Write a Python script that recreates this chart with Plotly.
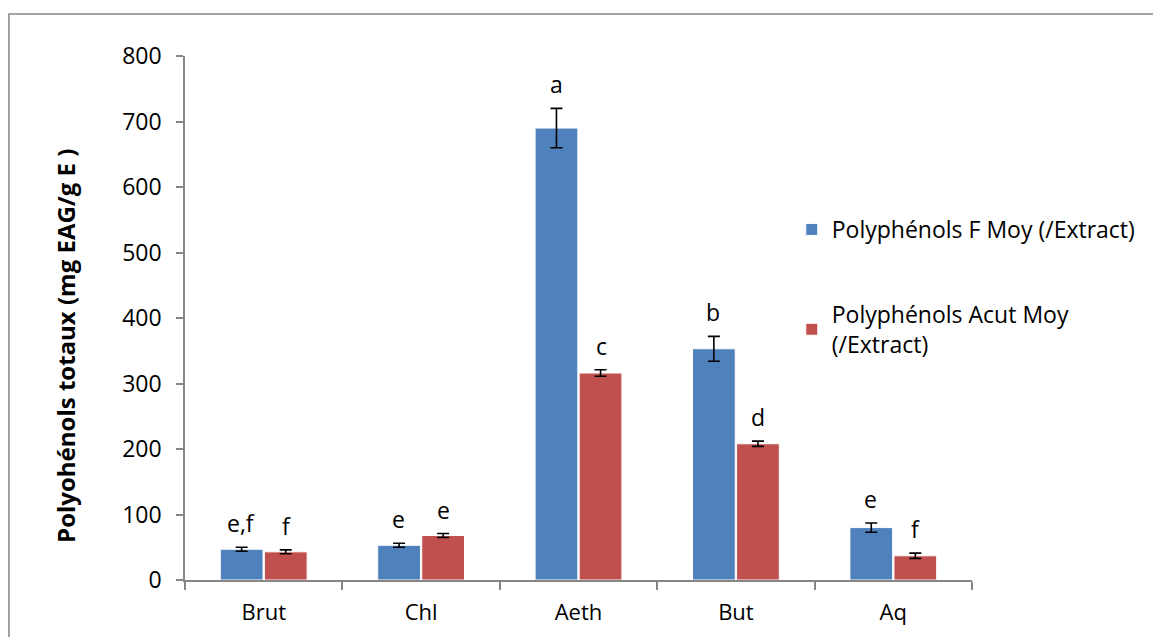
import plotly.graph_objects as go

categories = ["Brut", "Chl", "Aeth", "But", "Aq"]
f_values = [47, 53, 690, 353, 80]
f_errors = [3, 3, 30, 19, 7]
f_letters = ["e,f", "e", "a", "b", "e"]
a_values = [43, 68, 316, 208, 37]
a_errors = [3, 3, 5, 4, 4]
a_letters = ["f", "e", "c", "d", "f"]
series_names = ["Polyphénols F Moy (/Extract)", "Polyphénols Acut Moy<br>(/Extract)"]
y_title = "Polyohénols totaux (mg EAG/g E )"

FONT = "Open Sans"
blue = "#4F81BD"
red = "#C0504D"
grey = "#868686"

fig = go.Figure()
for name, vals, errs, col, grp in [
    (series_names[0], f_values, f_errors, blue, "g1"),
    (series_names[1], a_values, a_errors, red, "g2"),
]:
    fig.add_trace(go.Bar(
        x=categories, y=vals, name=name, legendgroup=grp,
        marker=dict(color=col, line=dict(color="white", width=1)),
        error_y=dict(type="data", array=errs, visible=True,
                     color="black", thickness=1.6, width=6),
    ))

annotations = []
for i, cat in enumerate(categories):
    for vals, errs, letters, shift in [
        (f_values, f_errors, f_letters, -22.5),
        (a_values, a_errors, a_letters, 22.5),
    ]:
        annotations.append(dict(
            x=cat, y=vals[i] + errs[i], xref="x", yref="y",
            text=letters[i], showarrow=False, xshift=shift, yshift=6,
            yanchor="bottom", font=dict(family=FONT, size=23, color="black"),
        ))

# y-axis title (placed as rotated text, slightly below centre as in the original)
annotations.append(dict(
    x=-0.151, y=0.447, xref="paper", yref="paper", textangle=-90,
    text="<b>" + y_title + "</b>", showarrow=False,
    xanchor="center", yanchor="middle",
    font=dict(family=FONT, size=24, color="black"),
))

fig.update_layout(
    width=1153, height=637,
    margin=dict(l=185, r=179, t=56, b=57),
    paper_bgcolor="white", plot_bgcolor="white",
    font=dict(family=FONT, size=23, color="black"),
    barmode="group", bargap=0.44, bargroupgap=0.03,
    showlegend=True,
    legend=dict(
        x=0.771, y=0.71, xanchor="left", yanchor="top",
        font=dict(family=FONT, size=23, color="black"),
        tracegroupgap=52, traceorder="grouped",
        bgcolor="rgba(0,0,0,0)", itemwidth=30,
    ),
    annotations=annotations,
    shapes=[dict(type="rect", xref="paper", yref="paper",
                 x0=-0.2237, x1=1.5, y0=1.080, y1=-0.5,
                 line=dict(color=grey, width=1.5), layer="below")],
)
fig.update_xaxes(
    showline=True, linecolor=grey, linewidth=1.5,
    ticks="outside", tickson="boundaries", ticklen=8, tickcolor=grey, tickwidth=1.5,
    showgrid=False, tickfont=dict(family=FONT, size=22), ticklabelstandoff=12,
)
fig.update_yaxes(
    range=[0, 800], dtick=100, showline=True, linecolor=grey, linewidth=1.5,
    ticks="outside", ticklen=7, tickcolor=grey, tickwidth=1.5,
    showgrid=False, zeroline=False, tickfont=dict(family=FONT, size=23),
    ticklabelstandoff=10,
)
fig.write_html("out.html", config={"displayModeBar": False},
               post_script="document.body.style.margin='0';document.body.style.overflow='hidden';")
